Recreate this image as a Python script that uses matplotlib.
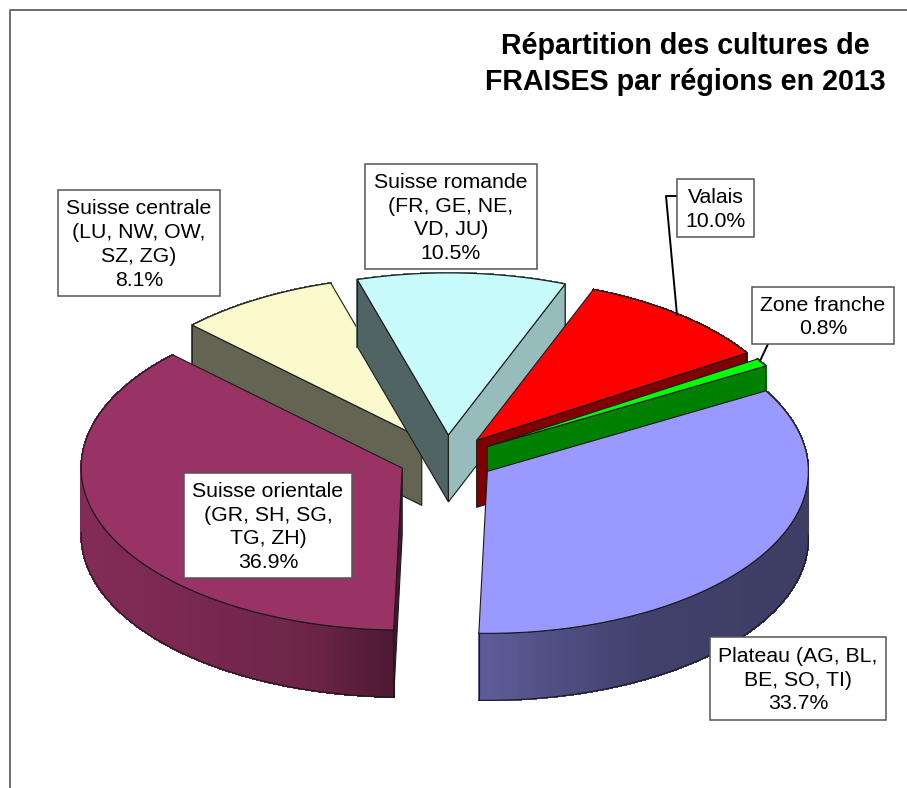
import numpy as np
import matplotlib
matplotlib.use("Agg")
import matplotlib.pyplot as plt
from matplotlib.patches import Polygon, Rectangle
from matplotlib.collections import PolyCollection
from matplotlib.colors import to_rgb

plt.rcParams['font.family'] = ['Liberation Sans', 'DejaVu Sans']

# --- data (clockwise order, starting at the right) ---
regions = ["Plateau (AG, BL,\nBE, SO, TI)", "Suisse orientale\n(GR, SH, SG,\nTG, ZH)",
           "Suisse centrale\n(LU, NW, OW,\nSZ, ZG)", "Suisse romande\n(FR, GE, NE,\nVD, JU)",
           "Valais", "Zone franche"]
shares = [33.7, 36.9, 8.1, 10.5, 10.0, 0.8]
title = "Répartition des cultures de\nFRAISES par régions en 2013"

# --- styles ---
top_colors = ["#9999FF", "#993366", "#FBFACC", "#C8FBFB", "#FF0000", "#00FF00"]
high_wall = [0.6, 0.45, 0.40, 0.40, 0.5, 0.5]     # radial wall at the larger angle
low_wall = [0.6, 0.6, 0.40, 0.75, 0.5, 0.5]       # radial wall at the smaller angle
shade_cos = [[-1, 0, 0.25, 0.5, 1], [-1, -0.7, -0.3, -0.03, 1],
             [-1, 1], [-1, 1], [-1, 1], [-1, 1]]
shade_val = [[.6, .6, .5, .42, .40], [.85, .80, .72, .50, .50],
             [.4, .4], [.5, .5], [.5, .5], [.5, .5]]
boxes = [(710, 637, 886, 720), (184, 473, 352, 578), (58, 190, 220, 296),
         (365, 164, 537, 269), (677, 179, 754, 237), (752, 287, 894, 344)]

# --- geometry of the 3-D projection (pixels) ---
CX, CY, A, B, DEPTH, EXPLODE, START = 446.4, 459.0, 321.0, 162.0, 67.0, 47.7, 29.8
EDGE = "#1a1a1a"

fig = plt.figure(figsize=(9.07, 7.88), dpi=100, facecolor="white")
ax = fig.add_axes([0, 0, 1, 1])
ax.set_xlim(0, 907)
ax.set_ylim(788, 0)
ax.axis("off")

# chart border
ax.plot([10, 10, 907], [788, 10, 10], color="#6e6e6e", lw=1.4, zorder=0)

fractions = np.array(shares) / sum(shares)
sweeps = fractions * 360
bounds = START - np.concatenate([[0], np.cumsum(sweeps)])
draw_order = [2, 3, 4, 5, 0, 1]

z = 1
for i in draw_order:
    hi, lo = bounds[i], bounds[i + 1]
    mid = np.radians((hi + lo) / 2)
    tx = CX + EXPLODE * np.cos(mid)
    ty = CY - EXPLODE * B / A * np.sin(mid)
    th = np.radians(np.linspace(hi, lo, max(int(hi - lo) * 2, 4)))
    xs = tx + A * np.cos(th)
    ys = ty - B * np.sin(th)
    base = np.array(to_rgb(top_colors[i]))

    # curved outer wall
    quads, cols = [], []
    for k in range(len(th) - 1):
        quads.append([(xs[k], ys[k]), (xs[k + 1], ys[k + 1]),
                      (xs[k + 1], ys[k + 1] + DEPTH), (xs[k], ys[k] + DEPTH)])
        c = np.cos((th[k] + th[k + 1]) / 2)
        cols.append(base * np.interp(c, shade_cos[i], shade_val[i]))
    ax.add_collection(PolyCollection(quads, facecolors=cols, edgecolors=cols, lw=0.8,
                                     antialiaseds=False, zorder=z))
    z += 1
    front = np.sin(th) < 0.02
    if front.any():
        ax.plot(xs[front], ys[front] + DEPTH, color=EDGE, lw=0.8, zorder=z)
        ax.plot(xs[front], ys[front], color=EDGE, lw=0.8, zorder=z)
        j = np.where(front)[0]
        for e in (j[0], j[-1]):
            if e in (0, len(th) - 1):
                ax.plot([xs[e], xs[e]], [ys[e], ys[e] + DEPTH], color=EDGE, lw=0.8, zorder=z)
    z += 1

    # radial walls: only those that face the viewer
    for idx, shade, visible in ((0, high_wall[i], np.cos(th[0]) < 0), (-1, low_wall[i], np.cos(th[-1]) > 0)):
        if visible:
            ax.add_patch(Polygon([(tx, ty), (xs[idx], ys[idx]), (xs[idx], ys[idx] + DEPTH), (tx, ty + DEPTH)],
                                 closed=True, facecolor=base * shade, edgecolor=EDGE, lw=0.8, zorder=z))
            z += 1

    # top surface
    ax.add_patch(Polygon(np.column_stack([np.r_[tx, xs], np.r_[ty, ys]]), closed=True,
                         facecolor=base, edgecolor=EDGE, lw=0.8, zorder=z))
    z += 1

# leader lines
ax.plot([677, 666, 677], [196, 196, 315], color="black", lw=1.4, zorder=z)
ax.plot([768, 760], [344, 361], color="black", lw=1.4, zorder=z)
z += 1

# data labels
for name, share, (x0, y0, x1, y1) in zip(regions, shares, boxes):
    ax.add_patch(Rectangle((x0, y0), x1 - x0, y1 - y0, facecolor="white",
                           edgecolor="#555555", lw=1.1, zorder=z))
    ax.text((x0 + x1) / 2, (y0 + y1) / 2 + 1.5, f"{name}\n{share:.1f}%", ha="center", va="center",
            fontsize=15.3, color="black", linespacing=1.33, zorder=z + 1)

ax.text(685, 64, title, ha="center", va="center", fontsize=20.6, fontweight="bold",
        color="black", linespacing=1.36, zorder=z + 1)

fig.savefig("out.png", dpi=100)
